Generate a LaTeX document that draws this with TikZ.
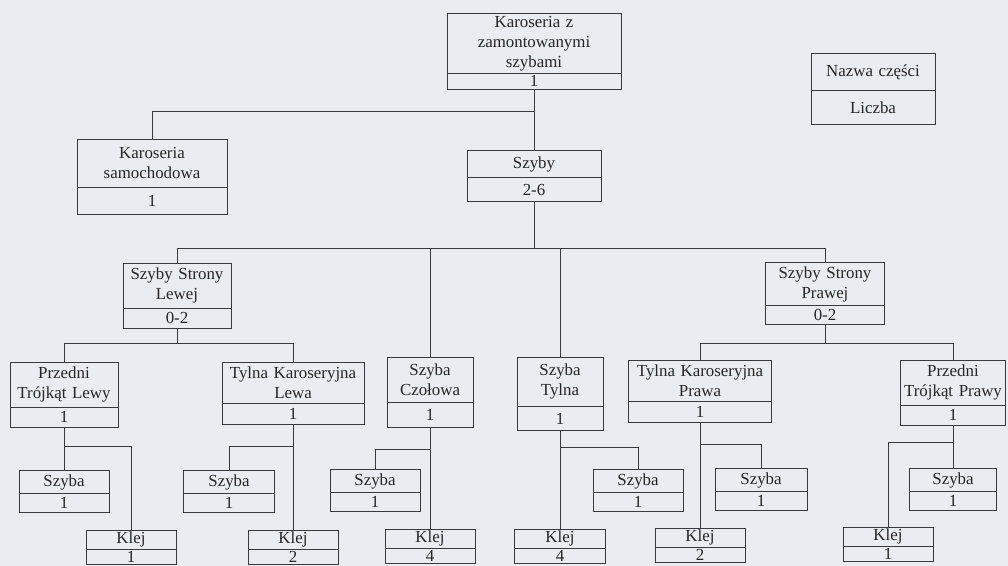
\documentclass[tikz,border=0pt]{standalone}
\usepackage{fontspec}
\setmainfont{Liberation Serif}
\usetikzlibrary{shapes.multipart}
\definecolor{scanbg}{RGB}{233,236,240}
\definecolor{inkgrey}{RGB}{55,58,62}

\begin{document}
\begin{tikzpicture}[x=0.025cm, y=-0.025cm,
    part/.style={rectangle split, rectangle split parts=2, draw=inkgrey,
        line width=0.6pt, font=\fontsize{12}{14.2}\selectfont, text=black!85,
        align=center, inner xsep=1pt, inner ysep=3pt, anchor=north},
    glass/.style={part, text width=2.18cm, inner ysep=2.5pt},
    glue/.style={part, text width=2.18cm, inner ysep=1pt},
    link/.style={draw=inkgrey, line width=0.6pt}
]
    \fill[scanbg] (0,0) rectangle (1008,566);
    \useasboundingbox (0,0) rectangle (1008,566);
    \clip (0,0) rectangle (1008,566);

    % === Top: assembled body and legend ===
    \node[part, text width=4.28cm, inner ysep=1.5pt] (root) at (534,13) {Karoseria z\\zamontowanymi\\szybami \nodepart{two} 1};
    \node[part, text width=3.03cm, inner ysep=7.5pt] (legend) at (873,53) {Nazwa części \nodepart{two} Liczba};

    \node[part, text width=3.68cm, inner ysep=5.5pt] (ksam) at (152,139) {Karoseria\\samochodowa \nodepart{two} 1};
    \node[part, text width=3.28cm, inner ysep=4pt] (szyby) at (534,150) {Szyby \nodepart{two} 2-6};

    \draw[link] (root.south) -- (szyby.north);
    \draw[link] (ksam.north) |- (root.south |- 0,111);

    % === Glass groups ===
    \node[part, text width=2.63cm] (lewa) at (177,263) {Szyby Strony\\Lewej \nodepart{two} 0-2};
    \node[part, text width=2.08cm, inner ysep=4.5pt] (czol) at (430,357) {Szyba\\Czołowa \nodepart{two} 1};
    \node[part, text width=2.08cm, inner ysep=4.5pt] (tyl) at (560,357) {Szyba\\Tylna \nodepart{two} 1};
    \node[part, text width=2.9cm, inner ysep=2.5pt] (prawa) at (825,262) {Szyby Strony\\Prawej \nodepart{two} 0-2};

    \draw[link] (szyby.south) -- (szyby.south |- 0,248);
    \draw[link] (lewa.north) |- (prawa.north |- 0,248) -- (prawa.north);
    \draw[link] (czol.north) -- (czol.north |- 0,248);
    \draw[link] (tyl.north) -- (tyl.north |- 0,248);

    % === Side windows ===
    \node[part, text width=2.63cm] (ptl) at (64,362) {Przedni\\Trójkąt Lewy \nodepart{two} 1};
    \node[part, text width=3.48cm] (tkl) at (293,362) {Tylna Karoseryjna\\Lewa \nodepart{two} 1};
    \node[part, text width=3.5cm] (tkp) at (700,360) {Tylna Karoseryjna\\Prawa \nodepart{two} 1};
    \node[part, text width=2.56cm] (ptp) at (953,360) {Przedni\\Trójkąt Prawy \nodepart{two} 1};

    \draw[link] (lewa.south) -- (lewa.south |- 0,343);
    \draw[link] (ptl.north) |- (tkl.north |- 0,343) -- (tkl.north);
    \draw[link] (prawa.south) -- (prawa.south |- 0,343);
    \draw[link] (tkp.north) |- (ptp.north |- 0,343) -- (ptp.north);

    % === Glass and glue per window ===
    \node[glass] (s1) at (64,470) {Szyba \nodepart{two} 1};
    \node[glue] (k1) at (131,530) {Klej \nodepart{two} 1};
    \node[glass, text width=2.2cm] (s2) at (229,470) {Szyba \nodepart{two} 1};
    \node[glue] (k2) at (293,530) {Klej \nodepart{two} 2};
    \node[glass] (s3) at (375,469) {Szyba \nodepart{two} 1};
    \node[glue] (k3) at (430,529) {Klej \nodepart{two} 4};
    \node[glass] (s4) at (638,469) {Szyba \nodepart{two} 1};
    \node[glue, text width=2.2cm] (k4) at (560,529) {Klej \nodepart{two} 4};
    \node[glass, text width=2.23cm] (s5) at (761,468) {Szyba \nodepart{two} 1};
    \node[glue] (k5) at (700,528) {Klej \nodepart{two} 2};
    \node[glass, text width=2.1cm] (s6) at (953,468) {Szyba \nodepart{two} 1};
    \node[glue] (k6) at (888,527) {Klej \nodepart{two} 1};

    \draw[link] (ptl.south) -- (s1.north);
    \draw[link] (k1.north) |- (ptl.south |- 0,446);
    \draw[link] (tkl.south) -- (k2.north);
    \draw[link] (s2.north) |- (tkl.south |- 0,446);
    \draw[link] (czol.south) -- (k3.north);
    \draw[link] (s3.north) |- (czol.south |- 0,449);
    \draw[link] (tyl.south) -- (k4.north);
    \draw[link] (s4.north) |- (tyl.south |- 0,447);
    \draw[link] (tkp.south) -- (k5.north);
    \draw[link] (s5.north) |- (tkp.south |- 0,444);
    \draw[link] (ptp.south) -- (s6.north);
    \draw[link] (k6.north) |- (ptp.south |- 0,442);
\end{tikzpicture}
\end{document}
